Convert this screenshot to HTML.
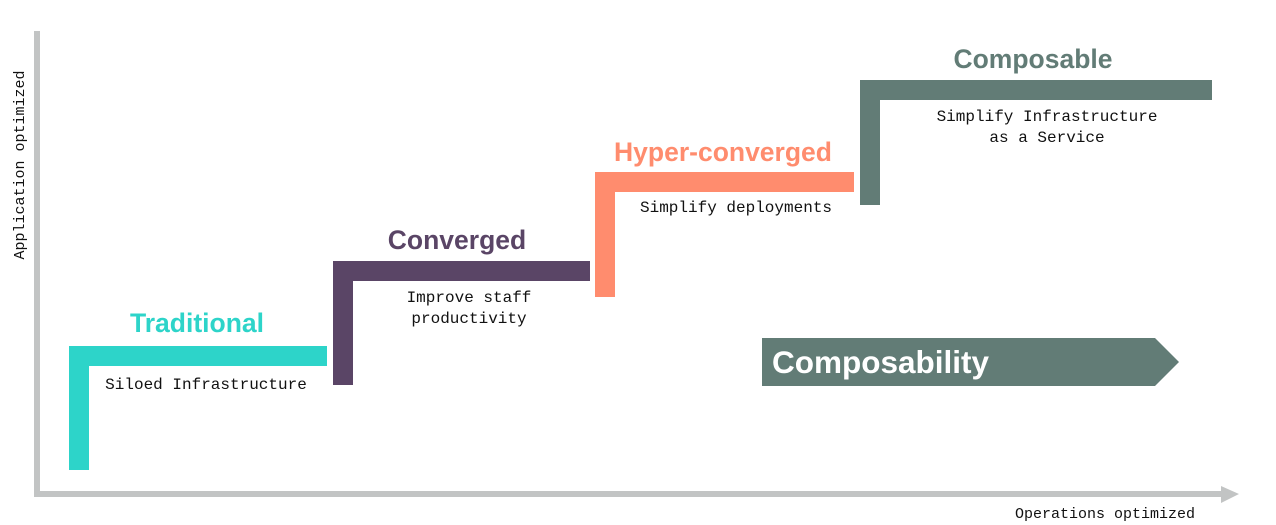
<!DOCTYPE html>
<html><head><meta charset="utf-8"><style>
body{margin:0;background:#fff;}
svg{display:block}
.t{font-family:"Liberation Sans",sans-serif;font-weight:bold;font-size:26.5px;text-anchor:middle}
.m{font-family:"Liberation Mono",monospace;font-size:16px;fill:#111;text-anchor:middle}
</style></head><body>
<svg width="1276" height="525" viewBox="0 0 1276 525">
<rect x="34" y="31" width="6" height="466" fill="#c2c4c4"/>
<rect x="34" y="491" width="1188" height="6" fill="#c2c4c4"/>
<polygon points="1221,486 1239,494 1221,503" fill="#c2c4c4"/>
<text class="m" transform="translate(24,165) rotate(-90)" style="font-size:15px">Application optimized</text>
<text class="m" x="1105" y="518" style="font-size:15px">Operations optimized</text>

<path d="M69 346H327V366H89V470H69Z" fill="#2dd4c9"/>
<text class="t" x="197" y="332" fill="#2dd4c9">Traditional</text>
<text class="m" x="206" y="389">Siloed Infrastructure</text>

<path d="M333 261H590V281H353V385H333Z" fill="#5a4566"/>
<text class="t" x="457" y="249" fill="#5a4566">Converged</text>
<text class="m" x="469" y="302">Improve staff</text>
<text class="m" x="469" y="323">productivity</text>

<path d="M595 172H854V192H615V297H595Z" fill="#ff8c6e"/>
<text class="t" x="723" y="161" fill="#ff8c6e">Hyper-converged</text>
<text class="m" x="736" y="212">Simplify deployments</text>

<path d="M860 80H1212V100H880V205H860Z" fill="#627c76"/>
<text class="t" x="1033" y="68" fill="#627c76">Composable</text>
<text class="m" x="1047" y="121">Simplify Infrastructure</text>
<text class="m" x="1047" y="142">as a Service</text>

<polygon points="762,338 1155,338 1179,362 1155,386 762,386" fill="#627c76"/>
<text x="772" y="373" style="font-family:'Liberation Sans',sans-serif;font-weight:bold;font-size:31.5px;fill:#fff">Composability</text>
</svg>
</body></html>
